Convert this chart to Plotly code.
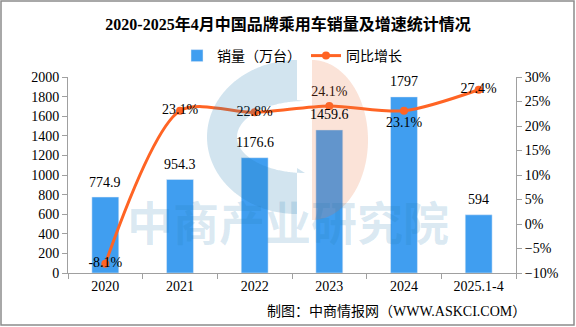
import math
import plotly.graph_objects as go

# Data
years = ["2020", "2021", "2022", "2023", "2024", "2025.1-4"]
sales = [774.9, 954.3, 1176.6, 1459.6, 1797, 594]          # 万台
growth = [-8.1, 23.1, 22.8, 24.1, 23.1, 27.4]              # %
growth_pos = ["middle center", "middle center", "middle center",
              "top center", "bottom center", "middle center"]

W, H = 576, 327
L, R, T, B = 68, 60, 77, 54
PW, PH = W - L - R, H - T - B

def px(x):
    return (x - L) / PW

def py(y):
    return (H - B - y) / PH

def path(points):
    return "M " + " L ".join(f"{px(x):.4f},{py(y):.4f}" for x, y in points) + " Z"

NUM = "Liberation Serif, Noto Sans CJK SC, serif"
CJK = "Noto Sans CJK SC, sans-serif"
BLUE = "#409ef0"
ORANGE = "#ff6424"

fig = go.Figure()
fig.add_trace(go.Bar(
    x=years, y=sales, name="销量（万台）", marker_color=BLUE, width=0.36,
))
fig.add_trace(go.Scatter(
    x=years, y=growth, name="同比增长", yaxis="y2", mode="lines+markers+text",
    line=dict(color=ORANGE, width=3, shape="spline", smoothing=0.8),
    marker=dict(color=ORANGE, size=8),
    text=[f"{v}%" for v in growth], textposition=growth_pos,
    textfont=dict(family=NUM, size=14, color="#000"), cliponaxis=False,
))

shapes = []
# Watermark logo: blue "C" and peach half disc
c_pts = []
cx, cy = 297, 137
for i in range(0, 181):
    a = math.radians(90 + i)
    c_pts.append((cx + 90 * math.cos(a), cy - 77 * math.sin(a)))
c_pts.append((297, 214))
c_pts.append((297, 168))
for i in range(0, 181):
    a = math.radians(270 - i)
    c_pts.append((cx + 8 + 80 * math.cos(a) * 0.85, cy - 36 * math.sin(a)))
c_pts.append((297, 100))
shapes.append(dict(type="path", xref="paper", yref="paper", path=path(c_pts),
                   fillcolor="rgba(30,120,175,0.2)", line=dict(width=0), layer="above"))
p_pts = [(312, 60)]
for i in range(0, 181):
    a = math.radians(90 - i)
    p_pts.append((312 + 56 * math.cos(a), 140 - 80 * math.sin(a)))
p_pts.append((312, 220))
shapes.append(dict(type="path", xref="paper", yref="paper", path=path(p_pts),
                   fillcolor="rgba(235,115,60,0.2)", line=dict(width=0), layer="above"))
# Outer frame
shapes.append(dict(type="rect", xref="paper", yref="paper",
                   x0=px(1), x1=px(574), y0=py(1), y1=py(325),
                   line=dict(color="#8c8c8c", width=1.5), layer="above"))

annotations = [
    dict(text="<b>中商产业研究院</b>", xref="paper", yref="paper",
         x=px(288), y=py(255), showarrow=False,
         font=dict(family=CJK, size=46, color="rgba(30,120,175,0.16)")),
    dict(text="制图：中商情报网（WWW.ASKCI.COM）", xref="paper", yref="paper",
         x=px(528), y=py(311), xanchor="right", yanchor="middle", showarrow=False,
         font=dict(family=NUM, size=14, color="#000")),
]
# Value labels above bars (x given as category index)
for i, v in enumerate(sales):
    annotations.append(dict(text=f"{v:g}", x=i, y=v, xref="x", yref="y",
                            yanchor="middle", yshift=15, showarrow=False,
                            font=dict(family=NUM, size=14, color="#000")))

fig.update_layout(
    width=W, height=H, margin=dict(l=L, r=R, t=T, b=B),
    paper_bgcolor="white", plot_bgcolor="white",
    title=dict(text="<b>2020-2025年4月中国品牌乘用车销量及增速统计情况</b>",
               x=0.5, xanchor="center", y=1 - 24 / H, yanchor="middle",
               font=dict(family=NUM, size=16, color="#000")),
    legend=dict(orientation="h", x=0.5, xanchor="center", y=py(56), yanchor="middle",
                font=dict(family=CJK, size=14, color="#000"), bgcolor="rgba(0,0,0,0)",
                itemwidth=30),
    showlegend=True,
    xaxis=dict(type="category", range=[-0.5, 5.5], showline=True, linecolor="#a0a0a0",
               linewidth=1, ticks="outside", tickson="boundaries", ticklen=5,
               tickcolor="#a0a0a0", tickfont=dict(family=NUM, size=14, color="#000"),
               showgrid=False),
    yaxis=dict(range=[0, 2000], dtick=200, showline=True, linecolor="#a0a0a0",
               ticks="outside", ticklen=5, tickcolor="#a0a0a0", showgrid=False,
               zeroline=False, tickfont=dict(family=NUM, size=14, color="#000")),
    yaxis2=dict(range=[-10, 30], dtick=5, ticksuffix="%", overlaying="y", side="right",
                showline=True, linecolor="#a0a0a0", ticks="outside", ticklen=5,
                tickcolor="#a0a0a0", showgrid=False, zeroline=False,
                tickfont=dict(family=NUM, size=14, color="#000")),
    shapes=shapes,
    annotations=annotations,
)

fig.write_html("out.html")
